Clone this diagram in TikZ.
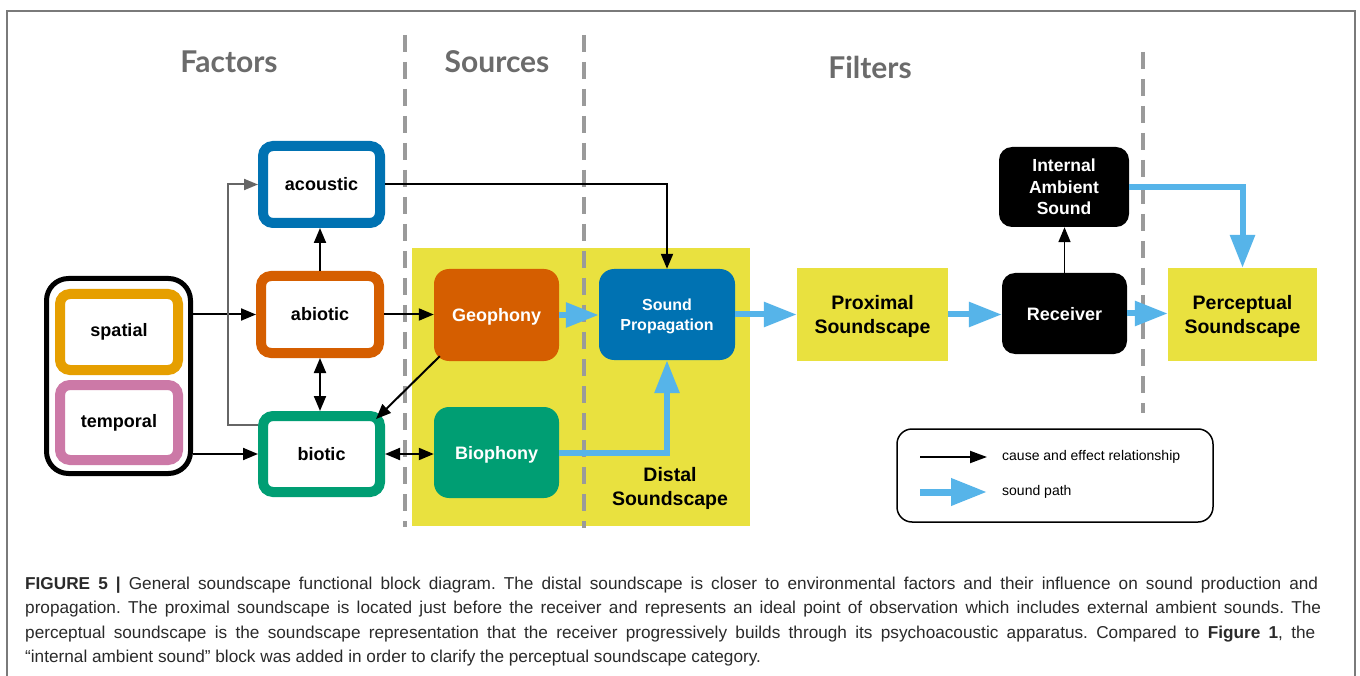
\documentclass[tikz,border=0pt]{standalone}
\usepackage{fontspec}
\setmainfont{Liberation Sans}
\newfontfamily\titlefont{Lato}
\usetikzlibrary{arrows.meta,calc}
\definecolor{cBlue}{HTML}{0072B2}
\definecolor{cOrange}{HTML}{E69F00}
\definecolor{cPink}{HTML}{CC79A7}
\definecolor{cVerm}{HTML}{D55E00}
\definecolor{cGreen}{HTML}{009E73}
\definecolor{cSky}{HTML}{56B4E9}
\definecolor{cYellow}{HTML}{E9E13F}
\definecolor{cDash}{HTML}{9A9A9A}
\definecolor{cTitle}{HTML}{6B6B6B}
\definecolor{cFrame}{HTML}{7A7A7A}
\definecolor{cCap}{HTML}{2A2A2A}
\newcommand\fsz[2]{\fontsize{#1}{#2}\selectfont}
\frenchspacing
\begin{document}
\begin{tikzpicture}[x=1pt,y=-1pt,
  factor/.style={draw, line width=10pt, fill=white, rounded corners=10pt, inner sep=0pt, font=\fsz{18}{21}\bfseries},
  solidbox/.style={draw=none, rounded corners=15pt, inner sep=0pt, text=white, align=center, font=\fsz{18}{22}\bfseries, text depth=0pt},
  yelbox/.style={fill=cYellow, inner sep=0pt, align=center, font=\fsz{19.5}{24}\bfseries, minimum width=151pt, minimum height=93pt, text depth=0pt},
  title/.style={text=cTitle, font=\titlefont\fsz{30}{34}\bfseries},
  sectdash/.style={draw=cDash, line width=4pt, dash pattern=on 17pt off 10pt},
  cause/.style={draw=black, line width=2pt, -{Triangle[length=15pt,width=12pt]}},
  causeboth/.style={draw=black, line width=2pt, {Triangle[length=15pt,width=12pt]}-{Triangle[length=15pt,width=12pt]}},
  graylink/.style={draw=black!60, line width=2pt, -{Triangle[length=14pt,width=11pt]}},
  sound/.style={draw=cSky, line width=6pt, -{Triangle[length=33pt,width=24pt]}},
  caption/.style={anchor=base west, inner sep=0pt, text=cCap, font=\fsz{17.2}{20}}
]
\useasboundingbox (0,0) rectangle (1360,676);
\fill[white] (0,0) rectangle (1360,676);
\draw[cFrame, line width=2pt] (7,676) -- (7,11) -- (1355,11) -- (1355,676);

% distal soundscape background
\fill[cYellow] (412,248) rectangle (750,526);

% section separators
\draw[sectdash] (405,35) -- (405,527);
\draw[sectdash] (584,35) -- (584,528);
\draw[sectdash] (1143,52) -- (1143,413);

% titles
\node[title] (tfactors) at (229,62) {Factors};
\node[title] (tsources) at (497,62) {Sources};
\node[title] (tfilters) at (870,67) {Filters};

% factors
\node[draw, line width=5pt, rounded corners=22pt, minimum width=144pt, minimum height=195pt] (group) at (118.5,376) {};
\node[factor, draw=cOrange, minimum width=118pt, minimum height=76pt] (spatial) at (119,332) {spatial};
\node[factor, draw=cPink, minimum width=118pt, minimum height=75pt] (temporal) at (119,422.5) {temporal};
\node[factor, draw=cBlue, minimum width=117pt, minimum height=77pt] (acoustic) at (321.5,184.5) {acoustic};
\node[factor, draw=cVerm, minimum width=118pt, minimum height=77pt] (abiotic) at (320,314.5) {abiotic};
\node[factor, draw=cGreen, minimum width=117pt, minimum height=76pt] (biotic) at (321.5,454) {biotic};

% sources
\node[solidbox, fill=cVerm, minimum width=125pt, minimum height=92pt] (geophony) at (496.5,315) {Geophony};
\node[solidbox, fill=cGreen, minimum width=125pt, minimum height=91pt] (biophony) at (496.5,452.5) {Biophony};

% filters
\node[solidbox, fill=cBlue, minimum width=136pt, minimum height=91pt, font=\fsz{16}{20}\bfseries] (soundprop) at (667,314.5) {Sound\\Propagation};
\node[inner sep=0pt, align=center, font=\fsz{19.5}{24}\bfseries] (distal) at (670,488) {Distal\\Soundscape};
\node[yelbox] (proximal) at (872.5,314.5) {Proximal\\Soundscape};
\node[solidbox, fill=black, rounded corners=13pt, minimum width=125pt, minimum height=81pt] (receiver) at (1064.5,313.5) {Receiver};
\node[solidbox, fill=black, rounded corners=13pt, minimum width=130pt, minimum height=80pt, font=\fsz{17.5}{21.5}\bfseries] (internal) at (1064,187) {Internal\\Ambient\\Sound};
\node[yelbox, minimum width=149pt] (perceptual) at (1242.5,314.5) {Perceptual\\Soundscape};

% cause and effect connectors
\draw[cause] (group.east |- abiotic.west) -- (abiotic.west);
\draw[cause] (group.east |- biotic.west) -- (biotic.west);
\draw[cause] (abiotic.north) -- (abiotic.north |- acoustic.south);
\draw[causeboth] (abiotic.south) -- (abiotic.south |- biotic.north);
\draw[graylink] ($(biotic.west)+(0,-29)$) -| ([xshift=-30pt]acoustic.west) -- (acoustic.west);
\draw[cause] (acoustic.east) -| (soundprop.north);
\draw[cause] (abiotic.east) -- (geophony.west |- abiotic.east);
\draw[cause] ($(geophony.south west)+(6,-5)$) -- ($(biotic.north east)+(-9,8)$);
\draw[causeboth] (biotic.east) -- (biophony.west |- biotic.east);
\draw[cause, line width=1.6pt] (receiver.north) -- (receiver.north |- internal.south);

% sound paths
\draw[sound] (geophony.east) -- (soundprop.west |- geophony.east);
\draw[sound] (biophony.east) -| (soundprop.south);
\draw[sound] (soundprop.east) -- (proximal.west |- soundprop.east);
\draw[sound] (proximal.east) -- (receiver.west |- proximal.east);
\draw[sound] (receiver.east) -- (perceptual.west |- receiver.east);
\draw[sound] (internal.east) -| (perceptual.north);

% legend
\node[draw, line width=1.5pt, rounded corners=15pt, minimum width=316pt, minimum height=93pt, inner sep=0pt] (legend) at (1055,475.5) {};
\coordinate (lc1) at (920,457);
\coordinate (lc2) at (987,457);
\coordinate (ls1) at (920,492);
\coordinate (ls2) at (987,492);
\draw[draw=black, line width=2pt, -{Triangle[length=17pt,width=12pt]}] (lc1) -- (lc2);
\draw[draw=cSky, line width=7pt, -{Triangle[length=36pt,width=26pt]}] (ls1) -- (ls2);
\node[anchor=west, inner sep=0pt, font=\fsz{14}{17}] (lt1) at (1002,457) {cause and effect relationship};
\node[anchor=west, inner sep=0pt, font=\fsz{14}{17}] (lt2) at (1002,492) {sound path};

% caption
\node[caption] (cap1) at (25,589) {\makebox[1293pt][s]{\textbf{FIGURE 5 |} General soundscape functional block diagram. The distal soundscape is closer to environmental factors and their influence on sound production and}};
\node[caption] (cap2) at (25,613.5) {\makebox[1296pt][s]{propagation. The proximal soundscape is located just before the receiver and represents an ideal point of observation which includes external ambient sounds. The}};
\node[caption] (cap3) at (25,638) {\makebox[1290pt][s]{perceptual soundscape is the soundscape representation that the receiver progressively builds through its psychoacoustic apparatus. Compared to \textbf{Figure 1}, the}};
\node[caption] (cap4) at (25,662.5) {“internal ambient sound” block was added in order to clarify the perceptual soundscape category.};
\end{tikzpicture}
\end{document}
